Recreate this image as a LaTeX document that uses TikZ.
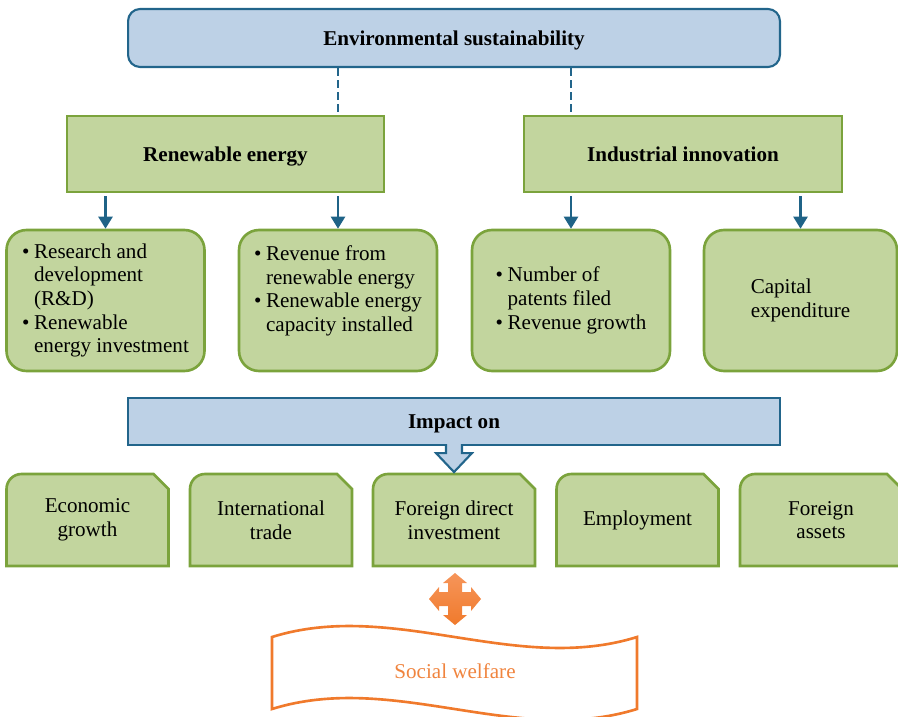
\documentclass[tikz,border=0pt]{standalone}
\usepackage{fontspec}
\setmainfont{Liberation Serif}
\usetikzlibrary{arrows.meta, backgrounds}

\definecolor{skyfill}{HTML}{BDD1E6}
\definecolor{skyline}{HTML}{22658B}
\definecolor{leaffill}{HTML}{C2D59E}
\definecolor{leafline}{HTML}{7BA33C}
\definecolor{arrowblue}{HTML}{1F6387}
\definecolor{welfare}{HTML}{F07A2C}
\definecolor{welfarelight}{HTML}{F6955A}
\definecolor{welfaretext}{HTML}{F0843E}

\newcommand{\diagfont}{\fontsize{12}{13.5}\selectfont}
\newcommand{\bul}{\makebox[0.24cm][l]{\textbullet}}
\newcommand{\ind}{\hspace*{0.24cm}}

\tikzstyle{headbox} = [draw=skyline, fill=skyfill, line width=1.2pt, font=\diagfont\bfseries, text depth=0pt]
\tikzstyle{mainbox} = [draw=leafline, fill=leaffill, line width=1.5pt, font=\diagfont\bfseries, minimum height=1.52cm, text depth=0pt]
\tikzstyle{subbox} = [draw=leafline, fill=leaffill, line width=1.5pt, rounded corners=0.4cm, minimum height=2.82cm, minimum width=3.96cm, align=left]
\tikzstyle{outcome} = [minimum width=3.24cm, minimum height=1.84cm, align=center, outer sep=0pt]
\tikzstyle{outline} = [draw=leafline, fill=leaffill, line width=1.5pt]
\tikzstyle{arrow} = [line width=1.4pt, arrowblue, -{Triangle[width=0.28cm,length=0.24cm]}, shorten <=0.06cm]
\tikzstyle{dashline} = [line width=1.4pt, skyline, dash pattern=on 0.15cm off 0.09cm]

\begin{document}
\begin{tikzpicture}[x=0.02cm, y=-0.02cm, font=\diagfont]
\useasboundingbox (0,0) rectangle (898,716);

% goal on top
\node[headbox, rounded corners=0.24cm, minimum width=13.04cm, minimum height=1.16cm] (env) at (454,38) {Environmental sustainability};

% the two drivers
\node[mainbox, minimum width=6.34cm] (renew) at (225.5,154) {Renewable energy};
\node[mainbox, minimum width=6.36cm] (innov) at (683,154) {Industrial innovation};

% their measures
\node[subbox] (sub1) at (105.5,300.5) {\bul Research and\\ \ind development\\ \ind (R\&D)\\ \bul Renewable\\ \ind energy investment};
\node[subbox] (sub2) at (338,300.5) {\bul Revenue from\\ \ind renewable energy\\ \bul Renewable energy\\ \ind capacity installed\\ \mbox{}};
\node[subbox] (sub3) at (571,300.5) {\bul Number of\\ \ind patents filed\\ \bul Revenue growth};
\node[subbox, minimum width=3.86cm] (sub4) at (800.5,300.5) {Capital\\expenditure};

\draw[dashline] (env.south -| sub2.north) -- (renew.north -| sub2.north);
\draw[dashline] (env.south -| sub3.north) -- (innov.north -| sub3.north);

\foreach \p/\s in {renew/sub1, renew/sub2, innov/sub3, innov/sub4}
  \draw[arrow] (\p.south -| \s.north) -- (\s.north);

% impact callout
\node[headbox, minimum width=13.04cm, minimum height=0.94cm] (impact) at (454,421.5) {Impact on};
\filldraw[draw=skyline, fill=skyfill, line width=1.2pt] ([shift={(-8,-2)}]impact.south) -- ++(0,9) -- ++(-10,0) -- ++(18,19) -- ++(18,-19) -- ++(-10,0) -- ++(0,-9);

% outcomes
\foreach \i/\x/\t in {1/87.5/{Economic\\growth}, 2/271/{International\\trade}, 3/454/{Foreign direct\\investment}, 4/637.5/{Employment}, 5/821/{Foreign\\assets}}
  \node[outcome] (out\i) at (\x,520) {\t};

\begin{scope}[on background layer]
\foreach \i in {1,...,5}
  \filldraw[outline] (out\i.south west) -- ([shift={(0,15)}]out\i.north west)
    .. controls ([shift={(0,6.7)}]out\i.north west) and ([shift={(6.7,0)}]out\i.north west) .. ([shift={(15,0)}]out\i.north west)
    -- ([shift={(-15,0)}]out\i.north east) -- ([shift={(0,15)}]out\i.north east) -- (out\i.south east) -- cycle;
\end{scope}

% four-way arrow
\begin{scope}[shift={(455,599)}]
\shade[top color=welfarelight, bottom color=welfare] (0,-26) -- (12,-16) -- (7,-16) -- (7,-7) -- (16,-7) -- (16,-12) -- (26,0) -- (16,12) -- (16,7) -- (7,7) -- (7,16) -- (12,16) -- (0,26) -- (-12,16) -- (-7,16) -- (-7,7) -- (-16,7) -- (-16,12) -- (-26,0) -- (-16,-12) -- (-16,-7) -- (-7,-7) -- (-7,-16) -- (-12,-16) -- cycle;
\end{scope}

% wavy banner
\draw[welfare, line width=1.5pt] (272,637) .. controls (393.7,599) and (515.3,675) .. (637,637) -- (637,709) .. controls (515.3,747) and (393.7,671) .. (272,709) -- cycle;
\node[text=welfaretext] (welf) at (455,671) {Social welfare};
\end{tikzpicture}
\end{document}
